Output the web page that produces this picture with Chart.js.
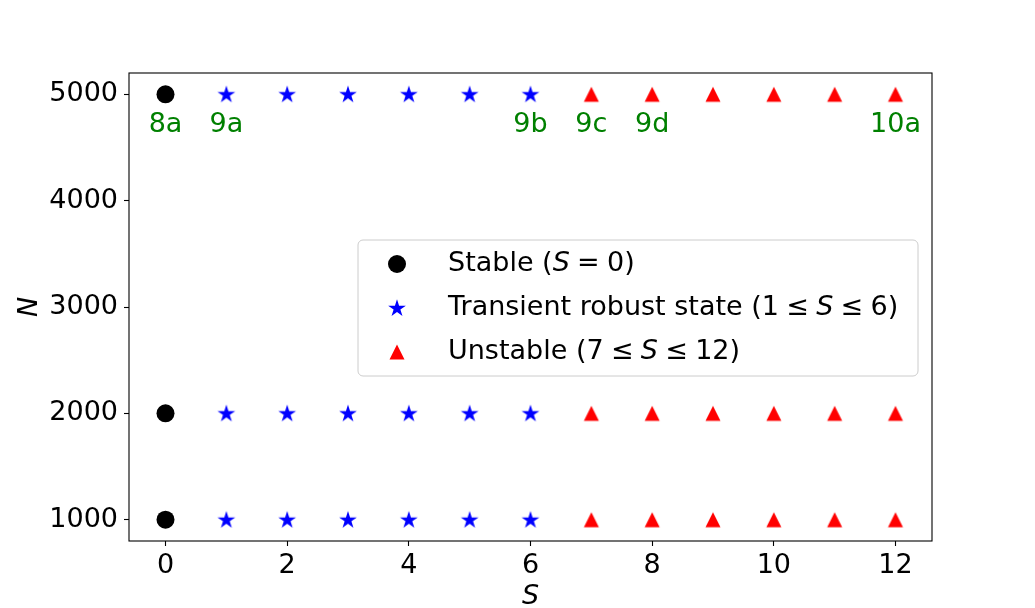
<!DOCTYPE html>
<html><head><meta charset="utf-8">
<script src="https://cdn.jsdelivr.net/npm/chart.js@4"></script>
<style>html,body{margin:0;padding:0;background:#fff}#wrap{width:1035px;height:608px;position:relative}</style>
</head><body><div id="wrap"><canvas id="c"></canvas></div>
<script>
const sStable = [0];
const sTransient = [1, 2, 3, 4, 5, 6];
const sUnstable = [7, 8, 9, 10, 11, 12];
const nValues = [1000, 2000, 5000];
const xTicks = [0, 2, 4, 6, 8, 10, 12];
const yTicks = [1000, 2000, 3000, 4000, 5000];
const annS = [0, 1, 6, 7, 8, 12];
const annN = [5000, 5000, 5000, 5000, 5000, 5000];
const annText = ['8a', '9a', '9b', '9c', '9d', '10a'];

const FONT = '"DejaVu Sans", sans-serif';
const FS = 27;

function pts(sArr) { const out = []; nValues.forEach(n => sArr.forEach(s => out.push({x: s, y: n}))); return out; }

function starImg(R, color) {
  const size = 20; const c = document.createElement('canvas'); c.width = size; c.height = size;
  const g = c.getContext('2d'); const cx = size / 2, cy = size / 2 + 0.5;
  g.beginPath();
  for (let i = 0; i < 10; i++) { const r = i % 2 ? R * 0.381966 : R; const a = -Math.PI / 2 + i * Math.PI / 5; g.lineTo(cx + r * Math.cos(a), cy + r * Math.sin(a)); }
  g.closePath(); g.fillStyle = color; g.fill(); return c;
}
function triImg(w, color) {
  const size = 18; const c = document.createElement('canvas'); c.width = size; c.height = size;
  const g = c.getContext('2d'); const cx = size / 2, cy = size / 2; const h = w / 2;
  g.beginPath(); g.moveTo(cx, cy - h); g.lineTo(cx + h, cy + h); g.lineTo(cx - h, cy + h); g.closePath();
  g.fillStyle = color; g.fill(); return c;
}
const STAR = starImg(9.3, '#0000ff');
const TRI = triImg(15, '#ff0000');

const framePlugin = {
  id: 'frame',
  afterDraw(chart) {
    const {ctx, chartArea: a} = chart;
    ctx.save(); ctx.strokeStyle = '#000'; ctx.lineWidth = 1.1;
    ctx.strokeRect(a.left, a.top, a.right - a.left, a.bottom - a.top);
    ctx.restore();
  }
};
const annPlugin = {
  id: 'ann',
  afterDatasetsDraw(chart) {
    const {ctx, scales: {x, y}} = chart;
    ctx.save(); ctx.font = FS + 'px ' + FONT; ctx.fillStyle = '#008000';
    ctx.textAlign = 'center'; ctx.textBaseline = 'alphabetic';
    annS.forEach((s, i) => ctx.fillText(annText[i], x.getPixelForValue(s), y.getPixelForValue(annN[i]) + 38));
    ctx.restore();
  }
};
// parts: [text, italic]; null = math relation gap
const legendItems = [
  {marker: 'circle', parts: [['Stable (', 0], ['S', 1], null, ['=', 0], null, ['0)', 0]]},
  {marker: 'star', parts: [['Transient robust state (1', 0], null, ['≤', 0], null, ['S', 1], null, ['≤', 0], null, ['6)', 0]]},
  {marker: 'tri', parts: [['Unstable (7', 0], null, ['≤', 0], null, ['S', 1], null, ['≤', 0], null, ['12)', 0]]}
];
const legendPlugin = {
  id: 'customLegend',
  afterDraw(chart) {
    const ctx = chart.ctx;
    const bx = 358, by = 240, bw = 560, bh = 136, r = 5;
    ctx.save();
    ctx.beginPath();
    ctx.moveTo(bx + r, by); ctx.arcTo(bx + bw, by, bx + bw, by + bh, r); ctx.arcTo(bx + bw, by + bh, bx, by + bh, r);
    ctx.arcTo(bx, by + bh, bx, by, r); ctx.arcTo(bx, by, bx + bw, by, r); ctx.closePath();
    ctx.fillStyle = 'rgba(255,255,255,0.8)'; ctx.fill();
    ctx.strokeStyle = '#cccccc'; ctx.lineWidth = 1; ctx.stroke();
    const rows = [264, 308, 352]; const mx = 397, tx = 448;
    legendItems.forEach((it, i) => {
      const yy = rows[i];
      if (it.marker === 'circle') { ctx.beginPath(); ctx.arc(mx, yy, 9, 0, Math.PI * 2); ctx.fillStyle = '#000'; ctx.fill(); }
      else if (it.marker === 'star') ctx.drawImage(STAR, mx - 10, yy - 10);
      else ctx.drawImage(TRI, mx - 9, yy - 9);
      let xx = tx; ctx.fillStyle = '#000'; ctx.textBaseline = 'middle'; ctx.textAlign = 'left';
      it.parts.forEach(p => {
        if (p === null) { xx += FS * 0.27; return; }
        const [t, ital] = p;
        ctx.font = (ital ? 'italic ' : '') + FS + 'px ' + FONT; ctx.fillText(t, xx, yy); xx += ctx.measureText(t).width;
      });
    });
    ctx.restore();
  }
};

new Chart(document.getElementById('c'), {
  type: 'scatter',
  data: {
    datasets: [
      {label: 'Stable (S = 0)', data: pts(sStable), pointStyle: 'circle', pointRadius: 9, backgroundColor: '#000', borderWidth: 0},
      {label: 'Transient robust state (1 ≤ S ≤ 6)', data: pts(sTransient), pointStyle: STAR, pointRadius: 10, backgroundColor: '#0000ff', borderWidth: 0},
      {label: 'Unstable (7 ≤ S ≤ 12)', data: pts(sUnstable), pointStyle: TRI, pointRadius: 9, backgroundColor: '#ff0000', borderWidth: 0}
    ]
  },
  options: {
    responsive: true, maintainAspectRatio: false, animation: false, events: [],
    layout: {padding: {top: 73, right: 103, left: 0, bottom: 0}},
    plugins: {legend: {display: false}, tooltip: {enabled: false}},
    scales: {
      x: {
        type: 'linear', min: -0.6, max: 12.6,
        afterBuildTicks: s => { s.ticks = xTicks.map(v => ({value: v})); },
        afterFit: s => { s.height = 67; },
        grid: {drawOnChartArea: false, drawTicks: true, tickLength: 5, tickColor: '#000', tickWidth: 1.1},
        border: {display: false},
        ticks: {color: '#000', font: {family: FONT, size: FS}, padding: 4, maxRotation: 0},
        title: {display: true, text: 'S', color: '#000', font: {family: FONT, size: FS, style: 'italic', lineHeight: 0.8}, padding: {top: 0, bottom: 0}}
      },
      y: {
        type: 'linear', min: 800, max: 5200,
        afterBuildTicks: s => { s.ticks = yTicks.map(v => ({value: v})); },
        afterFit: s => { s.width = 129; },
        grid: {drawOnChartArea: false, drawTicks: true, tickLength: 5, tickColor: '#000', tickWidth: 1.1},
        border: {display: false},
        ticks: {color: '#000', font: {family: FONT, size: FS}, padding: 6, callback: v => String(v)},
        title: {display: true, text: 'N', color: '#000', font: {family: FONT, size: FS, style: 'italic', lineHeight: 1}, padding: {top: 16, bottom: 0}}
      }
    }
  },
  plugins: [framePlugin, annPlugin, legendPlugin]
});
</script></body></html>
